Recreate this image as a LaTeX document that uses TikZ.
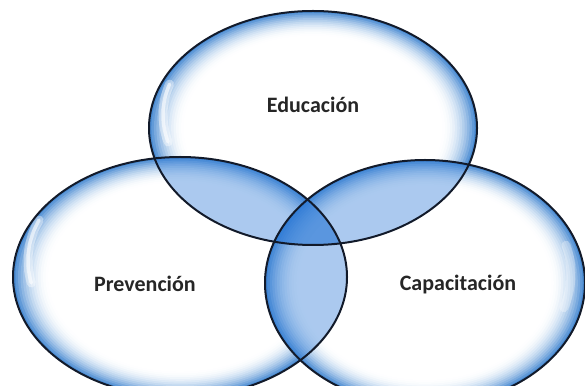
\documentclass[tikz,border=0pt]{standalone}
\usepackage{fontspec}
\setmainfont{Carlito}
\definecolor{edgeblue}{RGB}{72,138,210}
\definecolor{lensblue}{RGB}{45,122,215}
\definecolor{outlinec}{RGB}{18,26,42}
\newcommand\drawbubble[4]{%
  \foreach \i in {0,...,14}{%
    \pgfmathsetmacro\kk{1-0.015*\i}%
    \pgfmathsetmacro\pp{100*(1-\i/14)*(1-\i/14)}%
    \fill[edgeblue!\pp!white] (#1,#2) ellipse [x radius=\kk*#3, y radius=\kk*#4];
  }%
}
\tikzset{
  lensfill/.style={fill=lensblue, fill opacity=0.4},
  rim/.style={draw=outlinec, line width=2pt},
  glosswide/.style={draw=white, line cap=round, line width=9pt, opacity=0.4},
  gloss/.style={draw=white, line cap=round, line width=3.5pt, opacity=0.6},
  label/.style={font=\bfseries\fontsize{22}{26}\selectfont, text=black!85}
}
\begin{document}
\begin{tikzpicture}[x=1pt,y=1pt]
\useasboundingbox (0,0) rectangle (585,385);
\clip (0,0) rectangle (585,385);
\def\Top{(313,257) ellipse [x radius=164, y radius=117]}
\def\Lft{(180,108) ellipse [x radius=167, y radius=120]}
\def\Rgt{(425,102) ellipse [x radius=160, y radius=123]}
% fills
\drawbubble{313}{257}{164}{117}
\drawbubble{180}{108}{167}{120}
\drawbubble{425}{102}{160}{123}
% overlaps
\begin{scope}\clip \Top; \fill[lensfill] \Lft; \end{scope}
\begin{scope}\clip \Top; \fill[lensfill] \Rgt; \end{scope}
\begin{scope}\clip \Lft; \fill[lensfill] \Rgt; \end{scope}
% gloss highlights
\foreach \s in {glosswide,gloss}{
  \draw[\s] (313,257) ++(163:150) arc[start angle=163, end angle=195, x radius=150, y radius=105];
  \draw[\s] (180,108) ++(158:152) arc[start angle=158, end angle=192, x radius=152, y radius=108];
}
\draw[glosswide, opacity=0.3] (425,102) ++(15:146) arc[start angle=15, end angle=-18, x radius=146, y radius=110];
% outlines
\draw[rim] \Top;
\draw[rim] \Lft;
\draw[rim] \Rgt;
% labels
\node[label] (edu) at (313,280) {Educación};
\node[label] (pre) at (145,101) {Prevención};
\node[label] (cap) at (458,100) {Capacitación};
\end{tikzpicture}
\end{document}
